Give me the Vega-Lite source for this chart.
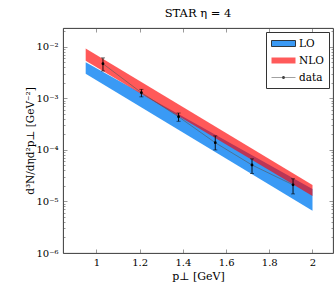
{
  "$schema": "https://vega.github.io/schema/vega-lite/v6.json",
  "autosize": {"type": "none"},
  "width": 270,
  "height": 225,
  "padding": {"left": 63, "top": 28, "right": 1, "bottom": 38},
  "background": "white",
  "title": {"text": "STAR η = 4", "font": "DejaVu Serif", "fontSize": 11.5, "fontWeight": "normal", "color": "black", "offset": 8},
  "config": {
    "view": {"stroke": "#222", "strokeWidth": 0.9},
    "axis": {"labelFont": "DejaVu Serif", "labelFontSize": 10, "labelColor": "black", "titleFont": "DejaVu Serif", "titleFontWeight": "normal", "titleColor": "black", "tickColor": "#555", "tickWidth": 0.6, "grid": false, "domain": false}
  },
  "datasets": {
    "bands": [
      {"series": "LO", "pt": 0.95, "lo": 0.0030, "hi": 0.0050},
      {"series": "LO", "pt": 2.0, "lo": 0.0000066, "hi": 0.0000175},
      {"series": "NLO", "pt": 0.95, "lo": 0.0054, "hi": 0.0093},
      {"series": "NLO", "pt": 2.0, "lo": 0.0000128, "hi": 0.0000209}
    ],
    "points": [
      {"pt": 1.03, "val": 0.0047, "lo": 0.0034, "hi": 0.0061},
      {"pt": 1.208, "val": 0.00129, "lo": 0.00107, "hi": 0.0015},
      {"pt": 1.38, "val": 0.00044, "lo": 0.00036, "hi": 0.00052},
      {"pt": 1.55, "val": 0.000138, "lo": 0.0001, "hi": 0.000187},
      {"pt": 1.72, "val": 0.000051, "lo": 0.000035, "hi": 0.000067},
      {"pt": 1.91, "val": 0.000021, "lo": 0.000014, "hi": 0.0000275}
    ]
  },
  "resolve": {"axis": {"x": "independent", "y": "independent"}},
  "layer": [
    {
      "data": {"name": "bands"},
      "transform": [{"filter": "datum.series === 'LO'"}],
      "mark": {"type": "area", "opacity": 1},
      "encoding": {
        "x": {"field": "pt", "type": "quantitative", "scale": {"domain": [0.845, 2.095], "nice": false, "zero": false},
              "axis": {"orient": "bottom", "values": [1, 1.2, 1.4, 1.6, 1.8, 2], "format": "~g", "tickSize": -4, "labelPadding": 8, "title": "p⊥ [GeV]", "titleFontSize": 11, "titlePadding": 3}},
        "y": {"field": "hi", "type": "quantitative", "scale": {"type": "log", "domain": [0.000001, 0.0232], "nice": false},
              "axis": {"orient": "left", "values": [0.000001, 0.00001, 0.0001, 0.001, 0.01], "tickSize": -4, "labelPadding": 9,
                       "labelExpr": "'10⁻' + replace(replace(replace(replace(replace(format(-log(datum.value)/LN10,'.0f'),'2','²'),'3','³'),'4','⁴'),'5','⁵'),'6','⁶')",
                       "title": "d³N/dηd²p⊥ [GeV⁻²]", "titleFontSize": 10.5, "titlePadding": 0}},
        "y2": {"field": "lo"},
        "color": {"field": "series", "type": "nominal",
                  "scale": {"domain": ["LO", "NLO", "data"], "range": ["#3a9af5", "#ff5a5a", "#444444"]},
                  "legend": {
                    "title": null, "orient": "top-right", "offset": 4, "padding": 5,
                    "strokeColor": "#333", "fillColor": "white", "cornerRadius": 0,
                    "labelFont": "DejaVu Serif", "labelFontSize": 10.5, "labelColor": "black",
                    "symbolSize": 144, "labelOffset": 15, "rowPadding": 5, "symbolOpacity": 1,
                    "symbolType": "M-1,-0.5H3V0.5H-1Z",
                    "encode": {"symbols": {"update": {
                      "shape": {"signal": "datum.value === 'data' ? 'M-1,-0.05H3V0.05H-1Z M1.25,0A0.25,0.25 0 1,1 0.75,0A0.25,0.25 0 1,1 1.25,0Z' : 'M-1,-0.5H3V0.5H-1Z'"},
                      "fill": {"signal": "datum.value === 'LO' ? '#3a9af5' : (datum.value === 'NLO' ? '#ff5a5a' : '#222222')"},
                      "stroke": {"signal": "datum.value === 'LO' ? '#111111' : 'transparent'"},
                      "strokeWidth": {"value": 0.8},
                      "opacity": {"value": 1}
                    }}}
                  }}
      }
    },
    {
      "data": {"name": "bands"},
      "transform": [{"filter": "datum.series === 'NLO'"}],
      "mark": {"type": "area", "fill": "#ff0000", "opacity": 0.65},
      "encoding": {
        "x": {"field": "pt", "type": "quantitative", "axis": {"orient": "top", "values": [1, 1.2, 1.4, 1.6, 1.8, 2], "labels": false, "tickSize": -4, "title": null}},
        "y": {"field": "hi", "type": "quantitative", "axis": {"orient": "right", "values": [0.000001, 0.00001, 0.0001, 0.001, 0.01], "labels": false, "tickSize": -4, "title": null}},
        "y2": {"field": "lo"}
      }
    },
    {
      "data": {"name": "points"},
      "mark": {"type": "line", "color": "#555555", "strokeWidth": 0.6},
      "encoding": {
        "x": {"field": "pt", "type": "quantitative", "axis": null},
        "y": {"field": "val", "type": "quantitative", "axis": {"orient": "left", "labels": false, "tickSize": -2, "title": null,
              "values": [0.000002,0.000003,0.000004,0.000005,0.000006,0.000007,0.000008,0.000009,0.00002,0.00003,0.00004,0.00005,0.00006,0.00007,0.00008,0.00009,0.0002,0.0003,0.0004,0.0005,0.0006,0.0007,0.0008,0.0009,0.002,0.003,0.004,0.005,0.006,0.007,0.008,0.009,0.02]}}
      }
    },
    {
      "data": {"name": "points"},
      "mark": {"type": "rule", "color": "black", "strokeWidth": 0.9},
      "encoding": {
        "x": {"field": "pt", "type": "quantitative", "axis": null},
        "y": {"field": "lo", "type": "quantitative", "axis": {"orient": "right", "labels": false, "tickSize": -2, "title": null,
              "values": [0.000002,0.000003,0.000004,0.000005,0.000006,0.000007,0.000008,0.000009,0.00002,0.00003,0.00004,0.00005,0.00006,0.00007,0.00008,0.00009,0.0002,0.0003,0.0004,0.0005,0.0006,0.0007,0.0008,0.0009,0.002,0.003,0.004,0.005,0.006,0.007,0.008,0.009,0.02]}},
        "y2": {"field": "hi"}
      }
    },
    {
      "data": {"name": "points"},
      "mark": {"type": "tick", "orient": "horizontal", "size": 4, "thickness": 0.8, "color": "black"},
      "encoding": {
        "x": {"field": "pt", "type": "quantitative", "axis": null},
        "y": {"field": "lo", "type": "quantitative", "axis": null}
      }
    },
    {
      "data": {"name": "points"},
      "mark": {"type": "tick", "orient": "horizontal", "size": 4, "thickness": 0.8, "color": "black"},
      "encoding": {
        "x": {"field": "pt", "type": "quantitative", "axis": null},
        "y": {"field": "hi", "type": "quantitative", "axis": null}
      }
    },
    {
      "data": {"name": "points"},
      "mark": {"type": "point", "filled": true, "color": "black", "size": 8, "opacity": 1},
      "encoding": {
        "x": {"field": "pt", "type": "quantitative", "axis": null},
        "y": {"field": "val", "type": "quantitative", "axis": null}
      }
    }
  ]
}
